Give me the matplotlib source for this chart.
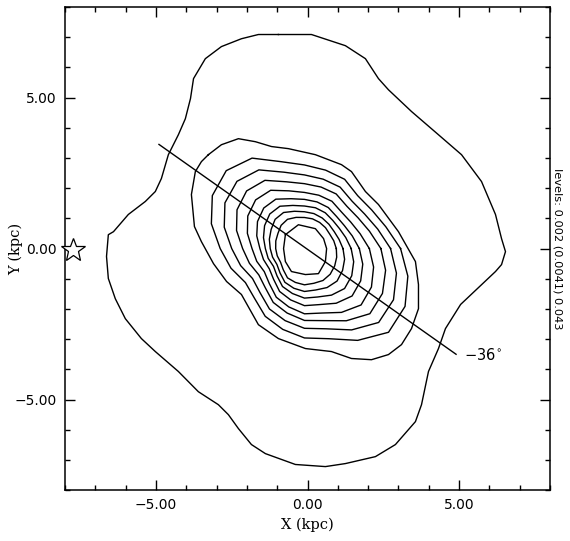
import numpy as np
import matplotlib
matplotlib.use("Agg")
import matplotlib.pyplot as plt
from matplotlib.ticker import MultipleLocator, FuncFormatter

# outermost contour (level 0.002), kpc
outer_x = [-0.96, 0.13, 1.25, 1.91, 2.34, 2.67, 3.43, 4.32, 5.08, 5.74, 6.20, 6.40,
           6.53, 6.40, 6.20, 5.05, 4.55, 4.32, 3.99, 3.76, 3.56, 2.90, 2.24, 1.25,
           0.59, -0.40, -1.39, -1.85, -2.28, -2.61, -2.94, -3.60, -4.26, -5.02, -5.48,
           -6.01, -6.34, -6.57, -6.63, -6.57, -6.40, -5.91, -5.35, -5.02, -4.82, -4.59,
           -4.26, -4.03, -3.86, -3.76, -3.37, -2.84, -2.18, -1.62]
outer_y = [7.09, 7.09, 6.72, 6.29, 5.63, 5.26, 4.54, 3.77, 3.11, 2.22, 1.13, 0.33,
           -0.10, -0.53, -0.76, -1.85, -2.65, -3.31, -4.07, -5.17, -5.73, -6.49, -6.89, -7.12,
           -7.22, -7.15, -6.79, -6.49, -5.96, -5.50, -5.17, -4.74, -4.07, -3.41, -2.98,
           -2.32, -1.66, -0.99, -0.26, 0.46, 0.56, 1.13, 1.56, 1.89, 2.32, 3.11,
           3.77, 4.30, 4.97, 5.63, 6.29, 6.69, 6.95, 7.09]

# second contour
c1_x = [-3.27, -2.84, -2.28, -1.72, -1.19, -0.63, 0.26, 1.12, 1.45, 1.91, 2.34, 3.00,
        3.56, 3.66, 3.66, 3.43, 3.10, 2.67, 2.11, 1.45, 0.79, -0.07, -0.96, -1.62,
        -2.18, -2.67, -3.10, -3.50, -3.73, -3.83, -3.70, -3.50]
c1_y = [3.11, 3.44, 3.64, 3.54, 3.38, 3.31, 3.11, 2.78, 2.55, 1.89, 1.46, 0.56,
        -0.43, -1.19, -1.99, -2.65, -3.18, -3.51, -3.68, -3.64, -3.41, -3.31, -2.98, -2.52,
        -1.52, -1.09, -0.50, 0.23, 0.73, 1.79, 2.55, 2.88]

# middle contours: distance from the core (kpc) every 15 deg of position angle
core_x, core_y = -0.1, 0.0
ring_angles = list(range(0, 360, 15))
ring_r = [
    [3.17, 2.78, 2.56, 2.48, 2.65, 2.69, 2.77, 2.98, 3.46, 3.65, 3.51, 3.18,
     2.78, 2.51, 2.25, 2.33, 2.59, 2.77, 2.96, 3.09, 3.51, 3.92, 3.83, 3.53],
    [2.84, 2.50, 2.29, 2.22, 2.35, 2.38, 2.44, 2.62, 3.01, 3.15, 3.03, 2.74,
     2.40, 2.18, 1.98, 2.07, 2.31, 2.47, 2.64, 2.75, 3.11, 3.46, 3.39, 3.14],
    [2.52, 2.22, 2.04, 1.98, 2.09, 2.11, 2.15, 2.29, 2.61, 2.70, 2.57, 2.32,
     2.04, 1.88, 1.74, 1.83, 2.06, 2.21, 2.38, 2.47, 2.76, 3.05, 2.97, 2.77],
    [2.14, 1.90, 1.76, 1.72, 1.81, 1.83, 1.86, 1.98, 2.23, 2.28, 2.16, 1.95,
     1.73, 1.63, 1.53, 1.64, 1.86, 2.00, 2.16, 2.21, 2.44, 2.64, 2.55, 2.36],
    [1.81, 1.63, 1.52, 1.50, 1.57, 1.60, 1.63, 1.71, 1.89, 1.90, 1.79, 1.63,
     1.47, 1.40, 1.34, 1.44, 1.64, 1.76, 1.89, 1.92, 2.09, 2.22, 2.14, 1.99],
    [1.54, 1.41, 1.33, 1.32, 1.37, 1.40, 1.41, 1.48, 1.62, 1.62, 1.52, 1.40,
     1.29, 1.24, 1.18, 1.28, 1.45, 1.54, 1.64, 1.66, 1.78, 1.87, 1.80, 1.68],
    [1.27, 1.18, 1.13, 1.14, 1.17, 1.20, 1.22, 1.28, 1.38, 1.37, 1.27, 1.20,
     1.13, 1.09, 1.05, 1.14, 1.29, 1.36, 1.42, 1.42, 1.49, 1.52, 1.45, 1.37],
    [1.05, 1.00, 0.96, 0.98, 1.00, 1.02, 1.03, 1.07, 1.12, 1.09, 1.01, 0.98,
     0.95, 0.93, 0.91, 0.99, 1.12, 1.16, 1.20, 1.19, 1.22, 1.20, 1.15, 1.10],
]

# innermost contour (level 0.043)
c10_x = [-0.73, -0.30, 0.26, 0.53, 0.63, 0.59, 0.36, -0.07, -0.53, -0.73, -0.79]
c10_y = [0.46, 0.79, 0.66, 0.33, 0.00, -0.43, -0.83, -0.86, -0.76, -0.43, 0.00]

# major axis cut and the sun
cut_x = [-4.9, 4.9]
cut_y = [3.45, -3.5]
cut_label = r"$-36^{\circ}$"
sun_x, sun_y = -7.72, -0.05

plt.rcParams["mathtext.default"] = "regular"

fig = plt.figure(figsize=(5.7, 5.41), dpi=100)
ax = fig.add_axes([0.114, 0.094, 0.851, 0.893])

def closed(xs, ys):
    return list(xs) + [xs[0]], list(ys) + [ys[0]]

for xs, ys in [(outer_x, outer_y), (c1_x, c1_y), (c10_x, c10_y)]:
    px, py = closed(xs, ys)
    ax.plot(px, py, color="k", lw=1.0)

ang = np.radians(ring_angles)
for r in ring_r:
    r = np.array(r)
    px, py = closed(core_x + r * np.cos(ang), core_y + r * np.sin(ang))
    ax.plot(px, py, color="k", lw=1.0)

ax.plot(cut_x, cut_y, color="k", lw=1.0)
ax.text(5.15, -3.52, cut_label, fontsize=10.5, va="center", ha="left")

ax.plot([sun_x], [sun_y], marker="*", ms=18, mfc="white", mec="k", mew=0.9,
        clip_on=False, zorder=5)

ax.set_xlim(-8, 8)
ax.set_ylim(-8, 8)
fmt = FuncFormatter(lambda v, p: f"{v:.2f}".replace("-", "\u2212"))
for axis in (ax.xaxis, ax.yaxis):
    axis.set_major_locator(MultipleLocator(5))
    axis.set_minor_locator(MultipleLocator(1))
    axis.set_major_formatter(fmt)
ax.tick_params(which="both", direction="in", top=True, right=True, labelsize=10, width=1.0)
ax.tick_params(which="major", length=7, pad=6)
ax.tick_params(which="minor", length=3.5)
for s in ax.spines.values():
    s.set_linewidth(1.1)

ax.set_xlabel("X (kpc)", family="DejaVu Serif", fontsize=10.5, labelpad=4)
ax.set_ylabel("Y (kpc)", family="DejaVu Serif", fontsize=10.5)
ax.yaxis.set_label_coords(-0.087, 0.5)

fig.text(0.978, 0.54, "levels: 0.002 (0.0041) 0.043", rotation=-90,
         fontsize=8.2, va="center", ha="center")

fig.savefig("out.png", dpi=100)
